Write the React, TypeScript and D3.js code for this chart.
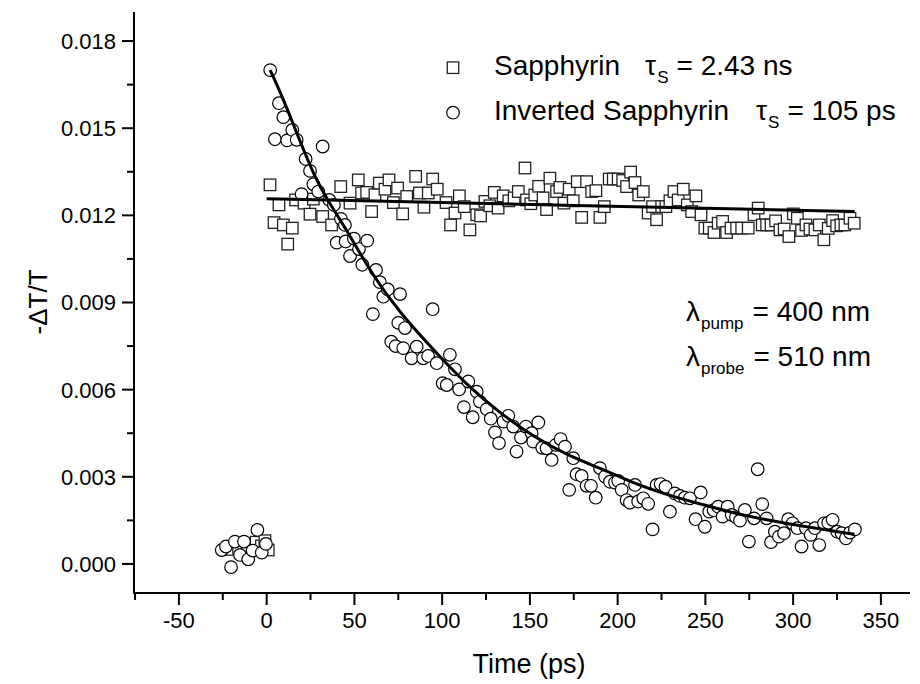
import React, { useEffect, useRef } from "react";
import * as d3 from "d3";

// ---- data (values of -ΔT/T in units of 1e-3) ----
const invT = [-25.6, -23.2, -20.3, -18.1, -15.2, -12.9, -10.5, -8.0, -5.3, -2.8, -0.4,
  2.0, 4.7, 7.0, 9.5, 11.7, 14.6, 17.1, 19.9, 22.2, 24.7, 26.6, 29.4, 31.9, 35.7, 38.3, 39.9,
  42.3, 44.6, 45.0, 47.5, 49.7, 52.6, 54.5, 57.3, 60.5, 62.3, 64.5, 66.5, 69.0, 71.0, 73.5, 75.0,
  76.0, 77.8, 78.8, 82.6, 85.5, 89.2, 92.0, 94.6, 96.9, 100.3, 102.6, 104.4, 107.3, 109.7, 112.4,
  114.9, 117.4, 119.7, 121.5, 125.4, 127.7, 130.1, 132.4, 135.0, 137.7, 140.5, 142.4, 144.9, 147.7,
  151.0, 151.9, 154.8, 157.0, 159.5, 162.4, 164.8, 167.5, 170.0, 172.4, 174.7, 176.6, 179.5, 182.3,
  184.8, 187.5, 189.9, 192.8, 195.6, 198.5, 200.3, 202.3, 205.1, 207.0, 209.9, 211.7, 214.6, 217.4,
  219.9, 222.2, 224.5, 227.3, 229.8, 232.6, 235.5, 238.3, 241.2, 244.4, 247.3, 249.7, 252.2, 254.7,
  257.3, 259.8, 262.7, 265.0, 267.4, 269.7, 272.5, 274.8, 277.7, 279.8, 282.4, 284.9, 287.4, 289.6,
  291.9, 294.8, 297.2, 299.7, 302.4, 304.8, 307.3, 310.0, 312.4, 314.9, 317.6, 320.0, 322.5, 325.1,
  327.6, 330.1, 332.4, 335.2];
const invV = [0.48, 0.60, -0.11, 0.77, 0.31, 0.77, 0.16, 0.46, 1.17, 0.39, 0.69,
  17.00, 14.62, 15.86, 15.38, 14.58, 14.94, 14.60, 12.73, 13.94, 13.53, 13.07, 12.82, 14.37, 12.53, 12.36, 11.06,
  11.88, 11.67, 11.10, 10.60, 11.20, 10.84, 10.30, 11.13, 8.60, 10.12, 9.70, 9.20, 9.45, 7.65, 7.50, 8.30,
  9.29, 7.43, 8.12, 7.08, 7.48, 7.08, 7.16, 8.77, 6.91, 6.22, 6.16, 7.20, 6.70, 6.01, 5.40,
  6.28, 5.05, 5.93, 5.59, 5.33, 5.00, 4.53, 4.16, 4.90, 5.10, 4.73, 3.87, 4.35, 4.73,
  4.50, 4.21, 4.87, 4.00, 3.98, 3.58, 4.10, 4.30, 4.04, 2.55, 3.64, 3.09, 3.03, 2.69,
  2.69, 2.28, 3.30, 3.01, 2.83, 2.80, 2.86, 2.55, 2.20, 2.11, 2.72, 2.15, 2.26, 2.07,
  1.19, 2.72, 2.75, 2.66, 1.80, 2.43, 2.34, 2.28, 2.26, 1.54, 2.46, 1.28, 1.80, 1.85,
  1.97, 1.63, 1.97, 1.69, 1.61, 1.49, 1.86, 0.77, 1.57, 3.26, 2.06, 1.57, 0.75, 1.11,
  0.94, 1.06, 1.54, 1.40, 1.23, 0.60, 1.23, 1.00, 1.23, 0.65, 1.40, 1.42, 1.52, 1.11,
  1.06, 0.88, 1.08, 1.19];

const sapT = [-22, -16, -11, -6, -3, -1, 0.9,
  1.9, 4.2, 7.0, 9.5, 12.0, 14.6, 16.5, 21.3, 24.7, 26.6, 31.9, 37.0, 42.2, 47.5, 52.2, 54.1, 57.0,
  59.8, 61.7, 64.2, 67.4, 69.7, 72.2, 74.6, 77.5, 79.8, 84.9, 87.0, 89.6, 92.1, 94.6, 97.2, 102.2,
  104.8, 107.3, 109.8, 112.6, 115.8, 119.7, 121.9, 124.4, 127.2, 129.7, 131.9, 134.8, 138.0, 141.0,
  143.4, 147.2, 148.1, 150.5, 152.8, 155.0, 157.5, 159.5, 161.4, 165.2, 167.1, 169.4, 172.4, 174.7,
  177.0, 179.5, 182.3, 185.2, 187.6, 189.9, 192.4, 195.2, 197.5, 200.3, 202.9, 205.1, 207.4, 209.9,
  212.0, 214.6, 217.4, 219.9, 222.2, 225.1, 227.5, 229.8, 232.1, 234.5, 237.4, 239.7, 242.2, 244.6,
  247.5, 249.7, 252.2, 254.9, 257.3, 259.8, 262.1, 264.6, 267.8, 270.7, 274.4, 277.7, 280.1, 282.4,
  284.9, 287.4, 290.0, 292.5, 294.9, 297.6, 300.1, 302.4, 304.8, 307.3, 309.6, 312.4, 314.9, 317.5,
  320.0, 322.5, 324.8, 327.2, 329.5, 332.4, 334.8];
const sapV = [0.50, 0.55, 0.60, 0.75, 0.62, 0.80, 0.48,
  13.05, 11.75, 12.36, 11.67, 11.01, 11.56, 12.53, 12.42, 12.04, 12.56, 11.96, 11.67, 12.99, 12.42, 13.22, 12.77, 12.79,
  12.13, 12.71, 13.11, 12.90, 13.22, 12.44, 12.94, 12.05, 12.65, 13.34, 12.77, 12.28, 12.77, 13.25, 12.90, 12.44,
  11.67, 12.08, 12.67, 12.30, 11.50, 12.02, 11.98, 12.48, 12.33, 12.79, 12.25, 12.67, 12.50, 12.60,
  12.82, 13.63, 12.53, 12.40, 12.70, 13.00, 12.60, 12.20, 13.28, 12.82, 12.96, 12.42, 12.90, 12.50,
  13.16, 11.93, 13.16, 12.82, 12.85, 11.93, 12.30, 13.25, 13.25, 13.25, 13.20, 12.99, 13.49, 13.13,
  12.70, 12.82, 12.08, 12.30, 11.85, 12.30, 12.30, 12.50, 12.82, 12.53, 12.90, 12.36, 12.13, 12.67,
  12.02, 11.56, 11.56, 11.41, 11.73, 11.79, 11.41, 11.56, 11.56, 11.56, 11.56, 12.02, 12.25, 11.67,
  11.67, 11.67, 11.81, 11.50, 11.53, 11.27, 12.05, 11.90, 11.48, 11.67, 11.53, 11.50, 11.67, 11.16,
  11.55, 11.82, 11.64, 11.67, 11.67, 11.90, 11.73];

// fitted curves
const invFitT = [2, 9.5, 17.1, 27.5, 34.2, 44.6, 60.7, 76, 95, 114, 133, 152, 171, 190, 209, 228, 247, 266, 285, 304, 335];
const invFitV = [17.0, 16.0, 14.84, 13.3, 12.57, 11.6, 9.9, 8.64, 7.37, 6.16, 5.19, 4.38, 3.75, 3.3, 2.78, 2.38, 2.07, 1.75, 1.52, 1.31, 1.02];
const sapFitT = [0, 170, 335];
const sapFitV = [12.57, 12.35, 12.13];

const xTicks = [-50, 0, 50, 100, 150, 200, 250, 300, 350];
const xMinor = [-75, -25, 25, 75, 125, 175, 225, 275, 325];
const yTicks = [0.0, 0.003, 0.006, 0.009, 0.012, 0.015, 0.018];
const yMinor = [0.0015, 0.0045, 0.0075, 0.0105, 0.0135, 0.0165];

const FONT = "'Liberation Sans', Arial, sans-serif";

export default function App() {
  const ref = useRef<SVGSVGElement>(null);

  useEffect(() => {
    const svg = d3.select(ref.current);
    svg.selectAll("*").remove();

    const x = d3.scaleLinear().domain([-75.6, 366.6]).range([134, 910]);
    const y = d3.scaleLinear().domain([-0.001, 0.019]).range([593, 12]);

    const sap = sapT.map((t, i) => ({ t, v: sapV[i] / 1000 }));
    const inv = invT.map((t, i) => ({ t, v: invV[i] / 1000 }));

    // squares
    const sq = 11.5;
    const rr = 6.3;
    svg.append("g").selectAll("rect").data(sap).join("rect")
      .attr("x", d => x(d.t) - sq / 2).attr("y", d => y(d.v) - sq / 2)
      .attr("width", sq).attr("height", sq)
      .attr("fill", "white").attr("stroke", "#222").attr("stroke-width", 1.3);

    // circles
    svg.append("g").selectAll("circle").data(inv).join("circle")
      .attr("cx", d => x(d.t)).attr("cy", d => y(d.v)).attr("r", rr)
      .attr("fill", "white").attr("stroke", "#000").attr("stroke-width", 1.2);

    // fits
    const line = d3.line<{ t: number; v: number }>()
      .x(d => x(d.t)).y(d => y(d.v)).curve(d3.curveBasis);
    svg.append("path")
      .attr("d", line(sapFitT.map((t, i) => ({ t, v: sapFitV[i] / 1000 }))))
      .attr("fill", "none").attr("stroke", "#000").attr("stroke-width", 3);
    svg.append("path")
      .attr("d", line(invFitT.map((t, i) => ({ t, v: invFitV[i] / 1000 }))))
      .attr("fill", "none").attr("stroke", "#000").attr("stroke-width", 3);

    // axes
    const ax = svg.append("g").attr("stroke", "#000").attr("stroke-width", 2);
    ax.append("line").attr("x1", x.range()[0]).attr("x2", x.range()[0]).attr("y1", y.range()[1]).attr("y2", y.range()[0] + 1);
    ax.append("line").attr("x1", x.range()[0] - 1).attr("x2", x.range()[1]).attr("y1", y.range()[0]).attr("y2", y.range()[0]);
    xTicks.forEach(t => ax.append("line").attr("x1", x(t)).attr("x2", x(t)).attr("y1", y.range()[0]).attr("y2", y.range()[0] + 12));
    xMinor.forEach(t => ax.append("line").attr("x1", x(t)).attr("x2", x(t)).attr("y1", y.range()[0]).attr("y2", y.range()[0] + 7));
    yTicks.forEach(v => ax.append("line").attr("x1", x.range()[0]).attr("x2", x.range()[0] - 12).attr("y1", y(v)).attr("y2", y(v)));
    yMinor.forEach(v => ax.append("line").attr("x1", x.range()[0]).attr("x2", x.range()[0] - 7).attr("y1", y(v)).attr("y2", y(v)));

    const lab = svg.append("g").attr("font-family", FONT).attr("fill", "#000");
    xTicks.forEach(t => lab.append("text").attr("x", x(t)).attr("y", 628).attr("text-anchor", "middle")
      .attr("font-size", 22).text(String(t)));
    yTicks.forEach(v => lab.append("text").attr("x", 116).attr("y", y(v)).attr("dy", "0.36em").attr("text-anchor", "end")
      .attr("font-size", 22).text(d3.format(".3f")(v)));

    lab.append("text").attr("x", 529).attr("y", 673).attr("text-anchor", "middle").attr("font-size", 27).text("Time (ps)");
    lab.append("text").attr("transform", "translate(47,302) rotate(-90)").attr("text-anchor", "middle")
      .attr("font-size", 26).text("-ΔT/T");

    // legend
    svg.append("rect").attr("x", 453 - sq / 2).attr("y", 67.7 - sq / 2).attr("width", sq).attr("height", sq)
      .attr("fill", "white").attr("stroke", "#222").attr("stroke-width", 1.3);
    svg.append("circle").attr("cx", 453).attr("cy", 112.7).attr("r", rr)
      .attr("fill", "white").attr("stroke", "#000").attr("stroke-width", 1.2);

    const leg = (yb: number, name: string, val: string, gap: number) => {
      const t = lab.append("text").attr("x", 494).attr("y", yb).attr("font-size", 28);
      t.append("tspan").text(name);
      t.append("tspan").attr("dx", gap).text("τ");
      t.append("tspan").attr("dy", 8).attr("dx", 1).attr("font-size", 17).text("S");
      t.append("tspan").attr("dy", -8).attr("dx", 8).text(val);
    };
    leg(75, "Sapphyrin", "= 2.43 ns", 25);
    leg(120, "Inverted Sapphyrin", "= 105 ps", 27);

    const lam = (yb: number, sub: string, val: string) => {
      const t = lab.append("text").attr("x", 686).attr("y", yb).attr("font-size", 28);
      t.append("tspan").text("λ");
      t.append("tspan").attr("dy", 8).attr("dx", 1).attr("font-size", 17).text(sub);
      t.append("tspan").attr("dy", -8).attr("dx", 9).text(val);
    };
    lam(321, "pump", "= 400 nm");
    lam(366, "probe", "= 510 nm");
  }, []);

  return (
    <svg ref={ref} width={920} height={684}
      style={{ position: "absolute", left: 0, top: 0, background: "white" }} />
  );
}
